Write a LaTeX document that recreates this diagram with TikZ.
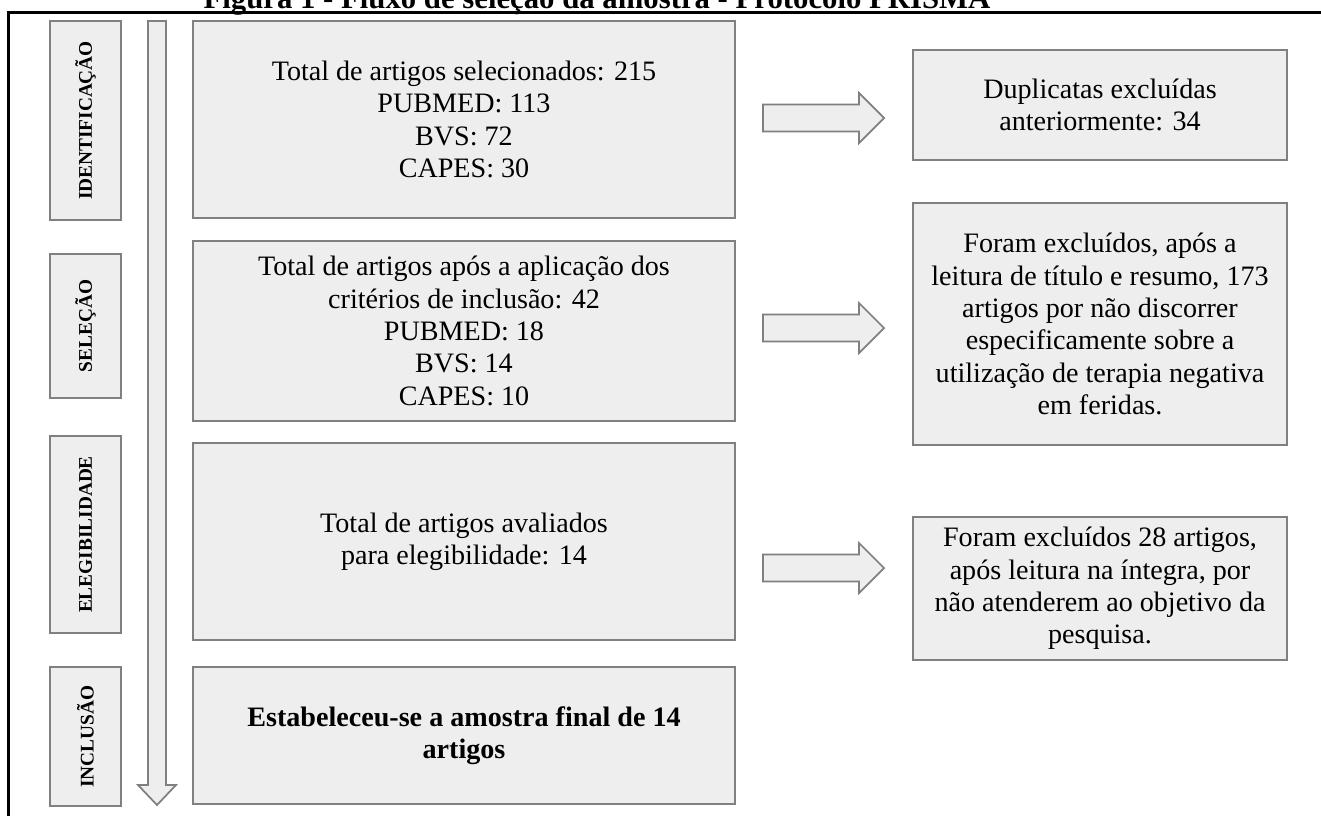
\documentclass[tikz,border=0pt]{standalone}
\usepackage{fontspec}
\setmainfont{Liberation Serif}
\usepackage{xcolor}
\usepackage{tikz}

\definecolor{cinzaclaro}{RGB}{238,238,238}
\definecolor{cinzaborda}{RGB}{128,128,128}

\begin{document}
\begin{tikzpicture}[x=0.02cm,y=-0.02cm,
        caixa/.style={draw=cinzaborda, fill=cinzaclaro, line width=1pt, align=center,
                inner sep=0pt, font=\fontsize{16}{18.4}\selectfont},
        etiqueta/.style={caixa, rotate=90, minimum height=1.42cm,
                font=\bfseries\fontsize{11}{13}\selectfont},
        seta/.style={draw=cinzaborda, fill=cinzaclaro, line width=1pt}]
        \useasboundingbox (0,0) rectangle (1321,815);
        %标题和边框
        \node[font=\bfseries\fontsize{17.5}{20}\selectfont, anchor=base] (titulo) at (597,8)
                {Figura 1 - Fluxo de seleção da amostra - Protocolo PRISMA};
        \draw[line width=1.6pt] (8.5,820) -- (8.5,12.5) -- (1325,12.5);
        %左边的阶段
        \node[etiqueta, minimum width=3.98cm] (lident) at (85.5,120.5) {IDENTIFICAÇÃO};
        \node[etiqueta, minimum width=2.88cm] (lsel) at (85.5,326) {SELEÇÃO};
        \node[etiqueta, minimum width=3.94cm] (leleg) at (85.5,534.5) {ELEGIBILIDADE};
        \node[etiqueta, minimum width=2.78cm] (lincl) at (85.5,736.5) {INCLUSÃO};
        %竖箭头
        \draw[seta] (148,21) -- (166,21) -- (166,785) -- (176,785) -- (157,805)
                -- (138,785) -- (148,785) -- cycle;
        %中间的框
        \node[caixa, minimum width=10.84cm, minimum height=3.94cm] (ident) at (464,119.5)
                {Total de artigos selecionados: 215\\PUBMED: 113\\BVS: 72\\CAPES: 30};
        \node[caixa, minimum width=10.84cm, minimum height=3.6cm] (sel) at (464,331)
                {Total de artigos após a aplicação dos\\critérios de inclusão: 42\\PUBMED: 18\\BVS: 14\\CAPES: 10};
        \node[caixa, minimum width=10.84cm, minimum height=3.94cm] (eleg) at (464,541.5)
                {Total de artigos avaliados\\para elegibilidade: 14};
        \node[caixa, minimum width=10.84cm, minimum height=2.74cm] (incl) at (464,735.5)
                {\bfseries Estabeleceu-se a amostra final de 14\\\bfseries artigos};
        %右边的框
        \node[caixa, minimum width=7.48cm, minimum height=2.2cm] (dupl) at (1100,105)
                {Duplicatas excluídas\\anteriormente: 34};
        \node[caixa, minimum width=7.48cm, minimum height=4.84cm] (excl1) at (1100,324)
                {Foram excluídos, após a\\leitura de título e resumo, 173\\artigos por não discorrer\\especificamente sobre a\\utilização de terapia negativa\\em feridas.};
        \node[caixa, minimum width=7.48cm, minimum height=2.86cm] (excl2) at (1100,588.5)
                {Foram excluídos 28 artigos,\\após leitura na íntegra, por\\não atenderem ao objetivo da\\pesquisa.};
        %横箭头
        \foreach \y in {118,328,568}
        {
                \draw[seta] (763,\y-13.5) -- (859,\y-13.5) -- (859,\y-25) -- (884,\y)
                        -- (859,\y+25) -- (859,\y+13.5) -- (763,\y+13.5) -- cycle;
        };
\end{tikzpicture}
\end{document}
